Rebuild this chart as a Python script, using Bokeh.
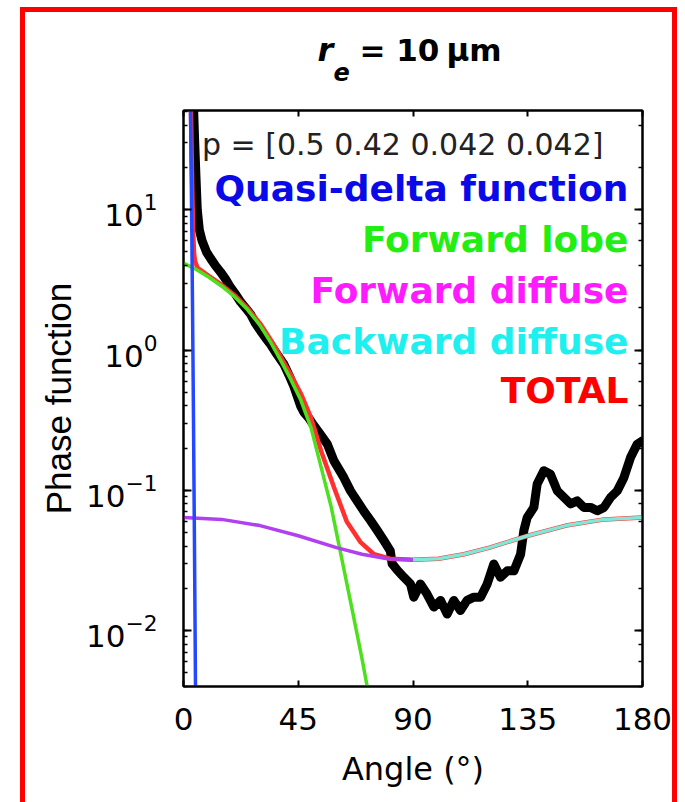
from bokeh.plotting import figure
from bokeh.layouts import column
from bokeh.models import (Range1d, FixedTicker, LinearAxis, LogAxis, LogTicker, Label,
                          CustomJSTickFormatter, InlineStyleSheet)
from bokeh.core.properties import value
from bokeh.embed import file_html
from bokeh.resources import INLINE

# ---------------- data ----------------
x_ticks = [0, 45, 90, 135, 180]

black_angle = [4.0, 4.4, 4.9, 5.4, 6.2, 7.3, 9.0, 10.6, 12.5, 14.5, 16.5, 18.4, 20.4, 22.4,
               24.3, 26.3, 28.2, 30.2, 32.2, 34.1, 36.7, 39.4, 41.4, 43.3, 45.9, 47.2, 49.0, 51.1,
               53.7, 56.4, 59.0, 62.9, 65.5, 68.1, 70.7, 73.3, 75.9, 78.5, 81.1, 81.8, 83.8, 86.4,
               89.0, 90.3, 92.9, 95.5, 98.2, 100.8, 103.4, 106.0, 108.6, 111.2, 113.9, 116.5,
               119.1, 121.7, 124.3, 127.0, 129.6, 132.2, 133.5, 134.8, 137.4, 138.7, 141.3,
               143.9, 146.6, 149.2, 151.8, 154.4, 157.0, 159.6, 162.3, 164.9, 167.5, 170.1,
               172.7, 175.3, 177.9, 180.0]
black_value = [50, 30, 17, 10, 7.2, 6.0, 5.0, 4.5, 4.0, 3.6, 3.2, 2.8, 2.5, 2.2,
               2.0, 1.8, 1.55, 1.37, 1.22, 1.10, 0.93, 0.79, 0.66, 0.55, 0.40, 0.36, 0.33, 0.29,
               0.25, 0.213, 0.162, 0.123, 0.099, 0.084, 0.071, 0.061, 0.052, 0.044, 0.037, 0.030, 0.027, 0.024,
               0.0215, 0.0173, 0.0215, 0.0182, 0.0147, 0.0164, 0.0131, 0.0164, 0.0139, 0.0164, 0.0173, 0.0173,
               0.0215, 0.0298, 0.024, 0.0267, 0.0267, 0.035, 0.052, 0.064, 0.0755, 0.111, 0.138,
               0.130, 0.099, 0.089, 0.080, 0.084, 0.0755, 0.0755, 0.0714, 0.0755, 0.089, 0.099,
               0.123, 0.171, 0.213, 0.225]

delta_angle = [2.6, 2.75, 3.0, 3.25, 3.5, 3.7, 3.9, 4.1, 4.3, 4.5, 4.75]
delta_value = [84, 50, 20, 7.1, 2.4, 0.93, 0.35, 0.12, 0.041, 0.013, 0.003]

lobe_angle = [0, 5, 10, 15, 20, 25, 30, 34, 38, 42, 46, 50, 54, 58, 62, 66, 70, 73]
lobe_value = [4.16, 3.75, 3.3, 2.85, 2.4, 1.95, 1.5, 1.15, 0.85, 0.62, 0.44, 0.28, 0.145,
              0.075, 0.033, 0.0145, 0.0063, 0.0032]

fwd_angle = [0, 15, 30, 45, 60, 70, 80, 90]
fwd_value = [0.064, 0.062, 0.056, 0.0474, 0.039, 0.035, 0.0325, 0.032]

bwd_angle = [90, 100, 110, 120, 135, 150, 165, 180]
bwd_value = [0.032, 0.0325, 0.035, 0.039, 0.0474, 0.056, 0.062, 0.064]

total_angle = [2.9, 3.2, 3.5, 3.8, 4.1, 4.5, 5.5, 10, 15, 20, 25, 30, 34, 38, 42, 46, 50, 54,
               59, 64, 69.5, 74.7, 81, 90, 100, 110, 120, 135, 150, 165, 180]
total_value = [55, 25, 12, 7, 5, 4.3, 3.85, 3.36, 2.91, 2.46, 2.0, 1.55, 1.2, 0.9, 0.67, 0.49,
               0.33, 0.19, 0.105, 0.06, 0.0425, 0.035, 0.0325, 0.032, 0.0325, 0.035, 0.039,
               0.0474, 0.056, 0.062, 0.064]

legend_texts = ["Quasi-delta function", "Forward lobe", "Forward diffuse", "Backward diffuse", "TOTAL"]
legend_colors = ["#0a0ae8", "#22ee11", "#ff1aff", "#1ef0f0", "#ff0000"]
weights_text = "p = [0.5 0.42 0.042 0.042]"

# title pieces:  r_e = 10 um
title_parts = ["r", "e", "= 10", "μm"]

FONT = "DejaVu Sans"
FRAME_LEFT, FRAME_RIGHT = 183, 642      # page pixels of the axes box (shared by both figures)
TITLE_H = 100

# ---------------- title strip (its frame is aligned with the main frame by the column) ----------------
t = figure(width=685, height=TITLE_H, output_backend="svg", toolbar_location=None,
           x_range=Range1d(FRAME_LEFT, FRAME_RIGHT), y_range=Range1d(TITLE_H, 0),
           x_axis_location=None, y_axis_location=None,
           min_border=0, min_border_left=0, min_border_right=0, min_border_top=0, min_border_bottom=0)
t.grid.visible = False
t.outline_line_color = None
t.background_fill_color = "white"
t.border_fill_color = "white"
t.text(x=[317], y=[49], text=[title_parts[0]], text_font=value(FONT), text_font_size="32px",
       text_font_style="bold italic", text_baseline="alphabetic", text_color="black")
t.text(x=[333], y=[71], text=[title_parts[1]], text_font=value(FONT), text_font_size="24px",
       text_font_style="bold italic", text_baseline="alphabetic", text_color="black")
t.text(x=[359], y=[49], text=[title_parts[2]], text_font=value(FONT), text_font_size="31px",
       text_font_style="bold", text_baseline="alphabetic", text_color="black")
t.text(x=[446], y=[49], text=[title_parts[3]], text_font=value(FONT), text_font_size="31px",
       text_font_style="bold", text_baseline="alphabetic", text_color="black")

# ---------------- main axes ----------------
p = figure(width=685, height=802 - TITLE_H, output_backend="svg", toolbar_location=None,
           y_axis_type="log", x_range=Range1d(0, 180), y_range=Range1d(0.00399, 51.0),
           min_border_left=FRAME_LEFT, min_border_right=685 - FRAME_RIGHT,
           min_border_top=110 - TITLE_H, min_border_bottom=116)
p.grid.visible = False
p.outline_line_color = "black"
p.outline_line_width = 2
p.background_fill_color = "white"
p.border_fill_color = "white"

xa = p.xaxis[0]
xa.ticker = FixedTicker(ticks=x_ticks)
xa.axis_label = "Angle (°)"
xa.axis_label_text_font = FONT
xa.axis_label_text_font_size = "32px"
xa.axis_label_text_font_style = "normal"
xa.axis_label_text_color = "black"
xa.axis_label_standoff = 17
xa.major_label_text_font = FONT
xa.major_label_text_font_size = "31px"
xa.major_label_text_color = "black"
xa.major_label_standoff = 21
xa.major_tick_in = 6
xa.major_tick_out = 0
xa.minor_tick_line_color = None
xa.axis_line_width = 2
xa.axis_line_color = "black"
xa.major_tick_line_color = "black"
xa.major_tick_line_width = 2

ya = p.yaxis[0]
ya.axis_label = "Phase function"
ya.axis_label_text_font = "Liberation Sans"
ya.axis_label_text_font_size = "35px"
ya.axis_label_text_font_style = "normal"
ya.axis_label_text_color = "black"
ya.axis_label_standoff = 5
ya.major_label_text_font = FONT
ya.major_label_text_font_size = "31px"
ya.major_label_text_color = "black"
ya.major_label_standoff = 26
ya.major_tick_in = 8
ya.major_tick_out = 0
ya.minor_tick_in = 4
ya.minor_tick_out = 0
ya.axis_line_width = 2
ya.axis_line_color = "black"
ya.major_tick_line_color = "black"
ya.minor_tick_line_color = "black"
ya.major_tick_line_width = 2
ya.minor_tick_line_width = 1.5

top_axis = LinearAxis(ticker=FixedTicker(ticks=x_ticks), formatter=CustomJSTickFormatter(code="return ''"),
                      major_tick_in=6, major_tick_out=0, minor_tick_line_color=None,
                      axis_line_width=2, axis_line_color="black", major_tick_line_color="black",
                      major_tick_line_width=2, major_label_standoff=0)
p.add_layout(top_axis, "above")
right_axis = LogAxis(ticker=LogTicker(), formatter=CustomJSTickFormatter(code="return ''"),
                     major_tick_in=8, major_tick_out=0, minor_tick_in=4, minor_tick_out=0,
                     axis_line_width=2, axis_line_color="black", major_tick_line_color="black",
                     minor_tick_line_color="black", major_tick_line_width=2,
                     minor_tick_line_width=1.5, major_label_standoff=0)
p.add_layout(right_axis, "right")

# ---------------- curves ----------------
p.line(black_angle, black_value, line_color="black", line_width=9, line_join="round", line_cap="round")
p.line(total_angle, total_value, line_color="#ff3030", line_width=4.5)
p.line(lobe_angle, lobe_value, line_color="#4ee01e", line_width=3.5)
p.line(fwd_angle, fwd_value, line_color="#b040f0", line_width=3.5)
p.line(bwd_angle, bwd_value, line_color="#7fe8d8", line_width=3.5)
p.line(delta_angle, delta_value, line_color="#2448ff", line_width=3.5)

# ---------------- text annotations inside the axes ----------------
p.add_layout(Label(x=164.7, y=29.3, text=weights_text, text_align="right",
                   text_baseline="alphabetic", text_font=FONT, text_font_size="30px",
                   text_color="#222222"))
legend_y = [14.2, 6.17, 2.67, 1.159, 0.511]
for txt, col, yy in zip(legend_texts, legend_colors, legend_y):
    p.add_layout(Label(x=174.5, y=yy, text=txt, text_align="right", text_baseline="alphabetic",
                       text_font=FONT, text_font_size="36px", text_font_style="bold",
                       text_color=col))

# red panel border drawn by the page layout
frame_css = InlineStyleSheet(css="""
:host { position: relative; }
:host::after {
  content: "";
  position: absolute;
  left: 20px; top: 7px; width: 657px; bottom: 0px;
  box-sizing: border-box;
  border: 5px solid #ff0000; border-bottom: none;
  pointer-events: none; z-index: 100;
}
""")

layout = column(t, p, spacing=0, stylesheets=[frame_css])
open("out.html", "w").write(file_html(layout, INLINE))
